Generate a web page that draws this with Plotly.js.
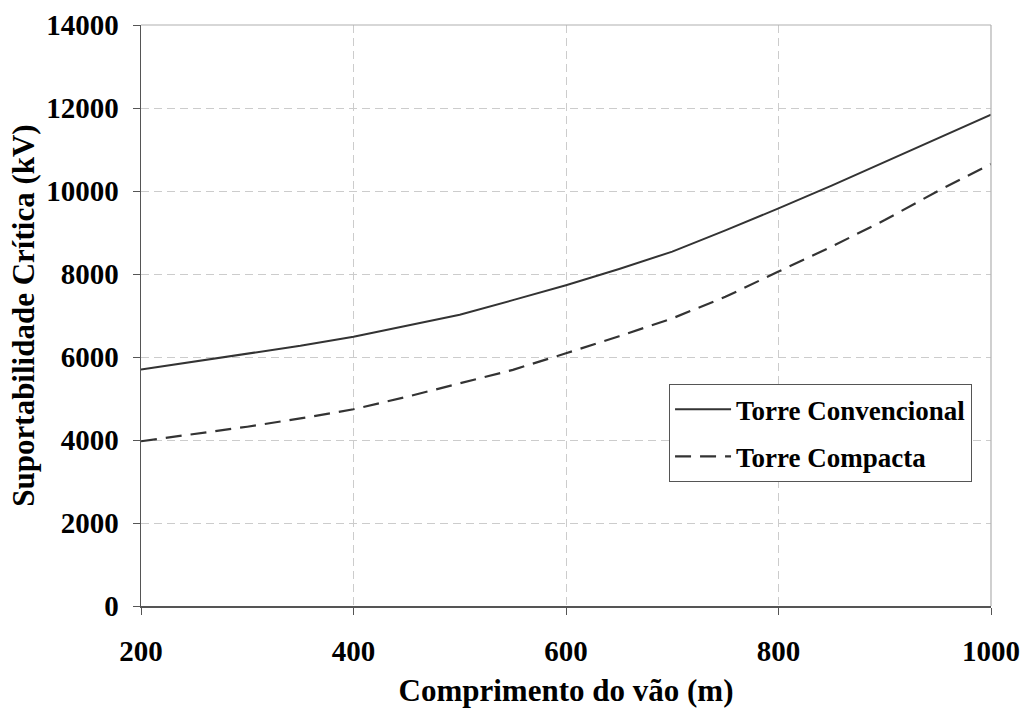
<!DOCTYPE html>
<html>
<head>
<meta charset="utf-8">
<script src="https://cdn.plot.ly/plotly-3.0.1.min.js"></script>
<style>
  html, body { margin: 0; padding: 0; background: #fff; }
  #chart { width: 1023px; height: 708px; }
</style>
</head>
<body>
<div id="chart"></div>
<script>
// Span length (m)
const spans = [200, 250, 300, 350, 400, 450, 500, 550, 600, 650, 700, 750, 800, 850, 900, 950, 1000];
// Critical withstand voltage (kV)
const convencional = [5700, 5890, 6080, 6270, 6490, 6750, 7020, 7370, 7730, 8120, 8540, 9050, 9580, 10130, 10700, 11270, 11840];
const compacta = [3970, 4150, 4320, 4520, 4740, 5040, 5370, 5690, 6090, 6500, 6930, 7450, 8060, 8660, 9300, 10000, 10650];

const serif = '"Liberation Serif", "DejaVu Serif", serif';
const lineColor = '#333333';

const traces = [
  {
    x: spans, y: convencional, type: 'scatter', mode: 'lines',
    name: 'Torre Convencional', legendgroup: 'a',
    line: { color: lineColor, width: 2 }
  },
  {
    x: spans, y: compacta, type: 'scatter', mode: 'lines',
    name: 'Torre Compacta', legendgroup: 'b',
    line: { color: lineColor, width: 2.2, dash: '16px,9px' }
  }
];

const gridStyle = { gridcolor: '#cccccc', griddash: '8px,5px', gridwidth: 1 };
const tickFont = { family: serif, size: 29, color: '#000', weight: 'bold' };
const titleFont = { family: serif, size: 31, color: '#000', weight: 'bold' };

const layout = {
  width: 1023, height: 708,
  paper_bgcolor: '#ffffff', plot_bgcolor: '#ffffff',
  margin: { l: 141, r: 32, t: 25, b: 102 },
  font: { family: serif, size: 27, color: '#000' },
  showlegend: true,
  legend: {
    x: 0.621, y: 0.382, xanchor: 'left', yanchor: 'top',
    bgcolor: '#ffffff', bordercolor: '#555', borderwidth: 1.2,
    font: { family: serif, size: 27, color: '#000', weight: 'bold' },
    traceorder: 'grouped', tracegroupgap: 9, itemwidth: 56
  },
  xaxis: Object.assign({
    range: [200, 1000], tickvals: [200, 400, 600, 800, 1000], tickformat: 'd',
    showline: true, linecolor: '#555', linewidth: 1.5,
    ticks: 'outside', ticklen: 7, tickcolor: '#555', tickwidth: 1,
    ticklabelstandoff: 12,
    tickfont: tickFont,
    zeroline: false,
    title: { text: 'Comprimento do vão (m)', standoff: 14, font: titleFont }
  }, gridStyle),
  yaxis: Object.assign({
    range: [0, 14000], tickvals: [0, 2000, 4000, 6000, 8000, 10000, 12000, 14000], tickformat: 'd',
    showline: true, linecolor: '#555', linewidth: 1.5,
    ticks: 'outside', ticklen: 7, tickcolor: '#555', tickwidth: 1,
    ticklabelstandoff: 8,
    tickfont: tickFont,
    zeroline: false,
    title: { text: 'Suportabilidade Crítica (kV)', standoff: 2, font: titleFont }
  }, gridStyle),
  shapes: [
    // light frame on the top and right of the plotting area
    { type: 'line', xref: 'paper', yref: 'paper', x0: 0, x1: 1, y0: 1, y1: 1,
      line: { color: '#b0b0b0', width: 1.2 } },
    { type: 'line', xref: 'paper', yref: 'paper', x0: 1, x1: 1, y0: 0, y1: 1,
      line: { color: '#b0b0b0', width: 1.2 } }
  ]
};

Plotly.newPlot('chart', traces, layout, { staticPlot: true, displayModeBar: false });
</script>
</body>
</html>
